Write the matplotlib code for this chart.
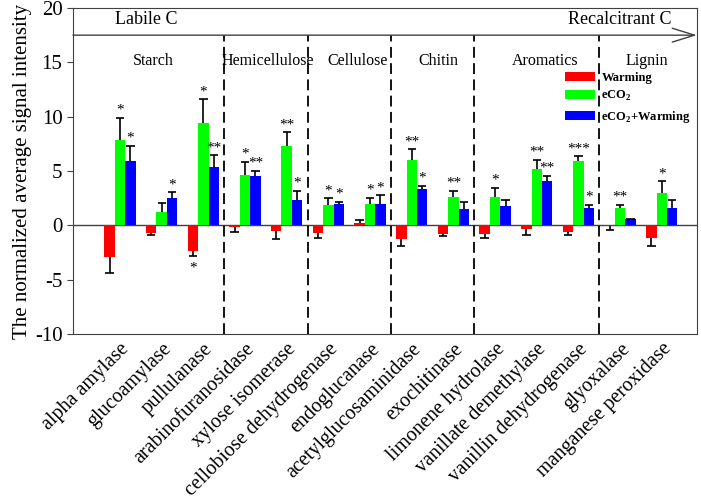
import numpy as np
import matplotlib
matplotlib.use('Agg')
import matplotlib.pyplot as plt

plt.rcParams['font.family'] = ['Liberation Serif', 'DejaVu Serif']
plt.rcParams['mathtext.fontset'] = 'custom'
plt.rcParams['mathtext.rm'] = 'Liberation Serif'
plt.rcParams['mathtext.bf'] = 'Liberation Serif:bold'
plt.rcParams['axes.unicode_minus'] = False

enzymes = ['alpha amylase', 'glucoamylase', 'pullulanase', 'arabinofuranosidase',
           'xylose isomerase', 'cellobiose dehydrogenase', 'endoglucanase',
           'acetylglucosaminidase', 'exochitinase', 'limonene hydrolase',
           'vanillate demethylase', 'vanillin dehydrogenase', 'glyoxalase',
           'manganese peroxidase']

groups = ['Starch', 'Hemicellulose', 'Cellulose', 'Chitin', 'Aromatics', 'Lignin']
group_sizes = [3, 2, 2, 2, 3, 2]

warming = [-2.9, -0.7, -2.35, -0.12, -0.55, -0.75, 0.22, -1.3, -0.77, -0.77, -0.3, -0.6, -0.08, -1.15]
warming_err = [1.5, 0.16, 0.5, 0.5, 0.68, 0.37, 0.28, 0.6, 0.18, 0.37, 0.55, 0.3, 0.37, 0.74]
eco2 = [7.85, 1.25, 9.4, 4.6, 7.3, 1.85, 1.95, 6.0, 2.6, 2.65, 5.2, 5.95, 1.6, 3.0]
eco2_err = [2.05, 0.77, 2.2, 1.27, 1.25, 0.65, 0.58, 1.0, 0.6, 0.83, 0.83, 0.4, 0.28, 1.06]
both = [5.95, 2.55, 5.4, 4.5, 2.37, 2.0, 1.97, 3.35, 1.47, 1.75, 4.1, 1.57, 0.55, 1.57]
both_err = [1.36, 0.5, 1.04, 0.52, 0.83, 0.18, 0.8, 0.28, 0.7, 0.58, 0.46, 0.33, 0.05, 0.8]

warming_sig = ['', '', '*', '', '', '', '', '', '', '', '', '', '', '']
eco2_sig = ['*', '', '*', '*', '**', '*', '*', '**', '**', '*', '**', '***', '**', '*']
both_sig = ['*', '*', '**', '**', '*', '*', '*', '*', '', '', '**', '*', '', '']

labels = ['Warming', r'eCO$_\mathbf{2}$', r'eCO$_\mathbf{2}$+Warming']
colors = ['#ff0000', '#00ff00', '#0000ff']

fig = plt.figure(figsize=(7.01, 5.0), dpi=100)
ax = fig.add_axes([0.104, 0.332, 0.890, 0.652])

x = np.arange(len(enzymes))
w = 0.25
series = [(warming, warming_err, warming_sig), (eco2, eco2_err, eco2_sig), (both, both_err, both_sig)]
handles = []
for k, (vals, errs, sigs) in enumerate(series):
    xs = x + (k - 1) * w
    vals = np.array(vals)
    errs = np.array(errs)
    b = ax.bar(xs, vals, width=w, color=colors[k], edgecolor='none', zorder=2)
    handles.append(b)
    ends = vals + np.sign(vals) * errs
    ax.vlines(xs, vals, ends, color='black', lw=1.2, zorder=3)
    ax.hlines(ends, xs - 0.1, xs + 0.1, color='black', lw=1.2, zorder=3)
    for xi, e, s in zip(xs, ends, sigs):
        if not s:
            continue
        if e >= 0:
            ax.text(xi, e + 0.1, s, ha='center', va='bottom', fontsize=11)
        else:
            ax.text(xi, e - 0.5, s, ha='center', va='top', fontsize=11)

ax.axhline(0, color='#404040', lw=1.0, zorder=1)

# group dividers and names
edges = np.cumsum(group_sizes)
for e in edges[:-1]:
    ax.vlines(e - 0.5, -10, 17.5, color='black', lw=1.3, linestyles=(0, (6, 3)), zorder=1)
starts = np.concatenate([[0], edges[:-1]])
shift = [-0.2, 0.05, 0.2, 0.15, 0.2, 0.15]
for g, s, n, d in zip(groups, starts, group_sizes, shift):
    ax.text(s + (n - 1) / 2 + d, 15.1, g, ha='center', va='center', fontsize=11.5)

ax.annotate('', xy=(1.0, 17.5), xycoords=('axes fraction', 'data'),
            xytext=(0.0, 17.5), textcoords=('axes fraction', 'data'),
            arrowprops=dict(arrowstyle='->,head_length=0.8,head_width=0.25',
                            color='#404040', lw=1.0, shrinkA=0, shrinkB=0,
                            mutation_scale=20), annotation_clip=False)
ax.text(0.62, 18.9, 'Labile C', ha='center', va='center', fontsize=13)
ax.text(12.0, 18.9, 'Recalcitrant C', ha='center', va='center', fontsize=13)

ax.set_xlim(-1.13, 13.84)
ax.set_ylim(-10, 20)
ax.set_yticks(np.arange(-10, 21, 5))
ax.set_xticks(x)
ax.set_xticklabels(enzymes, rotation=45, ha='right', rotation_mode='anchor', fontsize=14.5)
ax.tick_params(axis='y', labelsize=15, direction='out', length=4, color='#404040')
ax.tick_params(axis='x', length=0, pad=4)
for sp in ax.spines.values():
    sp.set_color('#404040')
ax.set_ylabel('The normalized average signal intensity', fontsize=15, labelpad=2)

leg = ax.legend(handles, labels, loc='upper left', bbox_to_anchor=(0.788, 0.805),
                frameon=False, prop={'weight': 'bold', 'size': 9},
                handlelength=2.4, handleheight=0.72, labelspacing=0.45,
                handletextpad=0.55, borderpad=0, borderaxespad=0)

fig.savefig('out.png', dpi=100)
